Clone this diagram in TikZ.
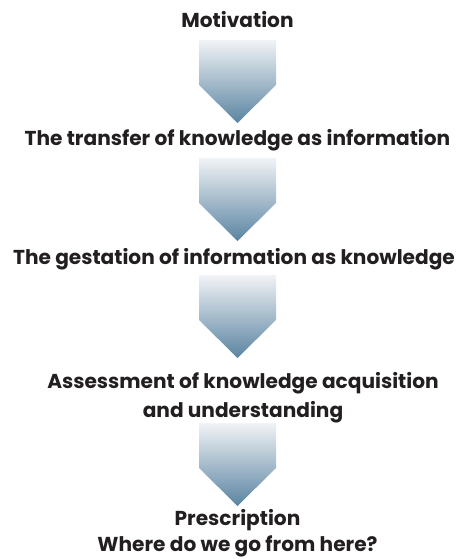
\documentclass[tikz,border=0pt]{standalone}
\usepackage{fontspec}
\setmainfont{Poppins}
\definecolor{inktext}{HTML}{231F20}
\definecolor{arrowtop}{HTML}{F1F3F6}
\definecolor{arrowbottom}{HTML}{5A84A1}
\begin{document}
\begin{tikzpicture}[x=1bp,y=-1bp,
  stage/.style={anchor=base,inner sep=0pt,text=inktext,font=\fontsize{20.2}{29}\selectfont\bfseries,align=center},
  blockarrow/.style={top color=arrowtop,bottom color=arrowbottom,draw=none}]
\useasboundingbox (0,0) rectangle (465,559);
% stage labels (multi-line nodes sit on the baseline of their last line)
\node[stage] (motiv) at (237.5,28) {Motivation};
\node[stage] (transfer) at (237.5,146) {The transfer of knowledge as information};
\node[stage] (gest) at (234,264) {The gestation of information as knowledge};
\node[stage] (assess) at (243,417) {Assessment of knowledge acquisition\\and understanding};
\node[stage,font=\fontsize{20.2}{26}\selectfont\bfseries] (presc) at (237.5,551) {Prescription\\Where do we go from here?};
% downward block arrows between stages
\foreach \t in {40,158,275,423}{
  \shade[blockarrow] (199,\t) -- (276,\t) -- (276,\t+45) -- (237.5,\t+83) -- (199,\t+45) -- cycle;
}
\end{tikzpicture}
\end{document}
